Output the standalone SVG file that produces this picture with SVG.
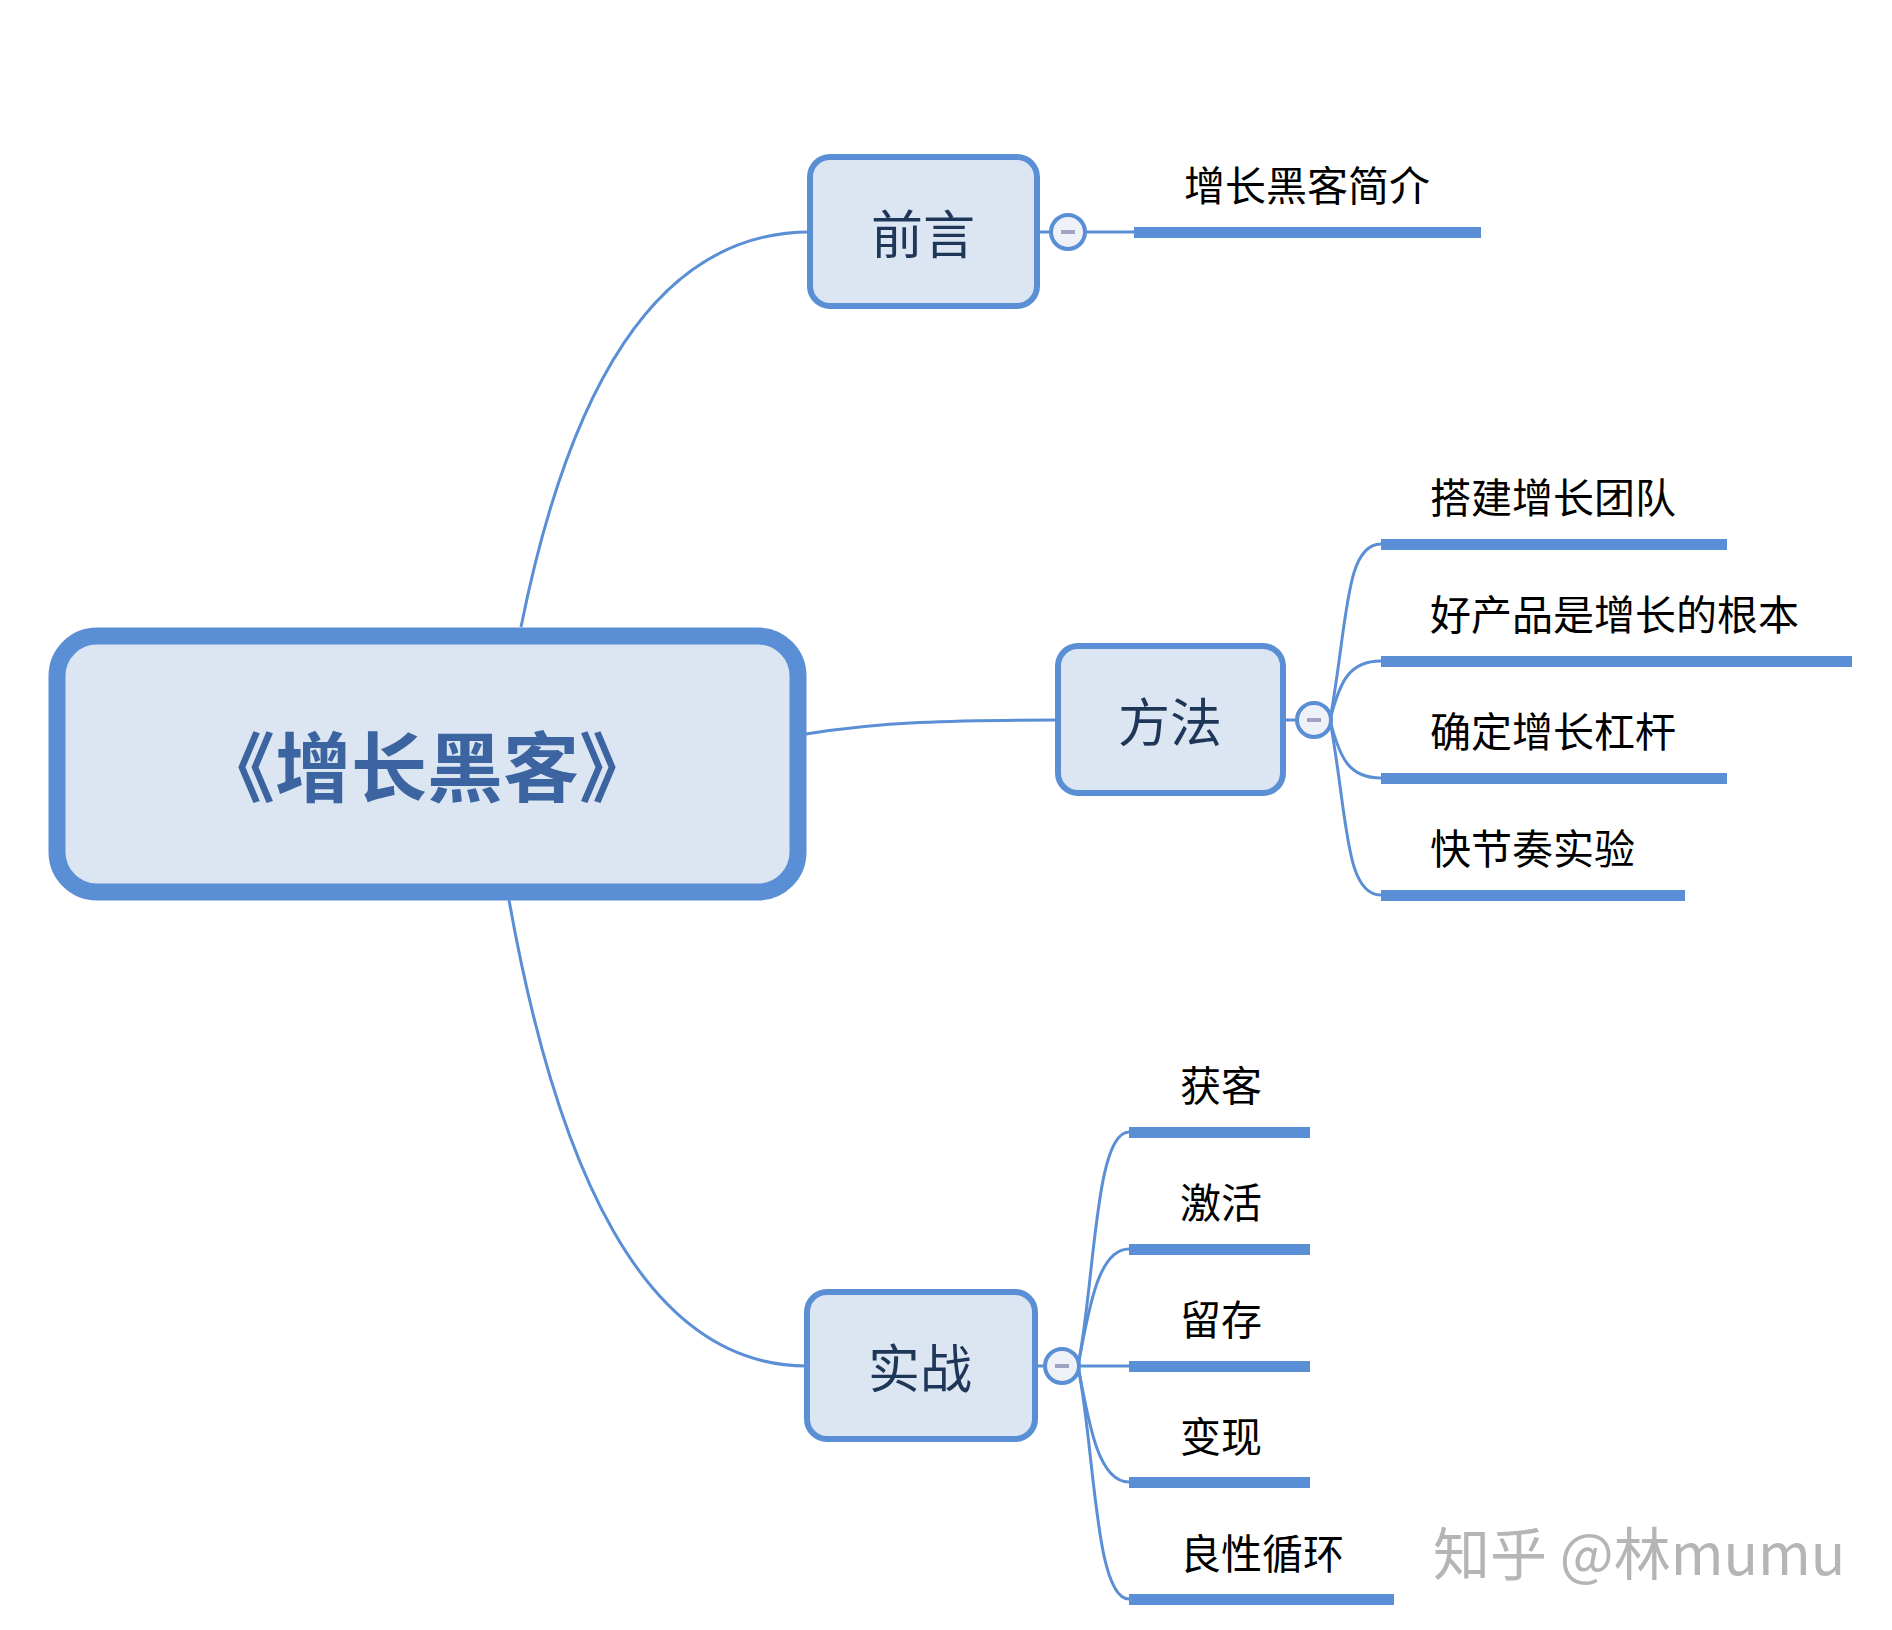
<svg xmlns="http://www.w3.org/2000/svg" width="1892" height="1630" viewBox="0 0 1892 1630">
<style>
.node rect{fill:#dce6f3;stroke:#5a8fd6}
.lbl{font-family:"Noto Sans CJK SC","Noto Sans",sans-serif;text-anchor:middle}
.sub{font-family:"Noto Sans CJK SC","Noto Sans",sans-serif;font-size:41px;fill:#000}
.conn path{fill:none;stroke:#5a8fd6;stroke-width:3}
.bar{fill:#5a8fd6}
.tog circle{fill:#eef2f8;stroke:#5a8fd6;stroke-width:4}
.tog line{stroke:#9ea3c4;stroke-width:4}
</style>
<rect width="1892" height="1630" fill="#ffffff"/>
<g id="connectors" class="conn">
<path d="M521,627 C567,398 652,232 810,232"/>
<path d="M806,734 C880,722 950,720 1058,720"/>
<path d="M509,900 C555,1158 640,1366 807,1366"/>
<path d="M1037,232 L1134,232"/>
<path d="M1283,720 L1300,720"/>
<path d="M1035,1366 L1050,1366"/>
<path d="M1330,720 C1348,620 1345,544 1381,544"/>
<path d="M1330,720 C1340,680 1350,661 1381,661"/>
<path d="M1330,720 C1340,760 1350,778 1381,778"/>
<path d="M1330,720 C1348,820 1345,895 1381,895"/>
<path d="M1078,1366 C1095,1280 1095,1132 1129,1132"/>
<path d="M1078,1366 C1090,1300 1100,1249 1129,1249"/>
<path d="M1078,1366 L1129,1366"/>
<path d="M1078,1366 C1090,1432 1100,1482 1129,1482"/>
<path d="M1078,1366 C1095,1452 1095,1599 1129,1599"/>
</g>
<g id="node-root" class="node">
<rect x="57" y="636" width="741" height="256" rx="40" stroke-width="17"/>
<text class="lbl" x="427" y="796" font-size="76" font-weight="bold" fill="#3b64a0">《增长黑客》</text>
</g>
<g id="node-qianyan" class="node">
<rect x="810" y="157" width="227" height="149" rx="20" stroke-width="6"/>
<text class="lbl" x="923" y="254" font-size="52" fill="#1e3658">前言</text>
</g>
<g id="toggle-qianyan" class="tog"><circle cx="1068" cy="232" r="17"/><line x1="1061" y1="232" x2="1075" y2="232"/></g>
<g id="node-fangfa" class="node">
<rect x="1058" y="646" width="225" height="147" rx="20" stroke-width="6"/>
<text class="lbl" x="1170" y="742" font-size="52" fill="#1e3658">方法</text>
</g>
<g id="toggle-fangfa" class="tog"><circle cx="1314" cy="720" r="17"/><line x1="1307" y1="720" x2="1321" y2="720"/></g>
<g id="node-shizhan" class="node">
<rect x="807" y="1292" width="228" height="147" rx="20" stroke-width="6"/>
<text class="lbl" x="920" y="1388" font-size="52" fill="#1e3658">实战</text>
</g>
<g id="toggle-shizhan" class="tog"><circle cx="1062" cy="1366" r="17"/><line x1="1055" y1="1366" x2="1069" y2="1366"/></g>
<g id="leaf-jianjie"><rect class="bar" x="1134" y="227" width="347" height="11"/><text class="sub" x="1184" y="201">增长黑客简介</text></g>
<g id="leaf-tuandui"><rect class="bar" x="1381" y="539" width="346" height="11"/><text class="sub" x="1430" y="513">搭建增长团队</text></g>
<g id="leaf-chanpin"><rect class="bar" x="1381" y="656" width="471" height="11"/><text class="sub" x="1430" y="630">好产品是增长的根本</text></g>
<g id="leaf-ganggan"><rect class="bar" x="1381" y="773" width="346" height="11"/><text class="sub" x="1430" y="747">确定增长杠杆</text></g>
<g id="leaf-shiyan"><rect class="bar" x="1381" y="890" width="304" height="11"/><text class="sub" x="1430" y="864">快节奏实验</text></g>
<g id="leaf-huoke"><rect class="bar" x="1129" y="1127" width="181" height="11"/><text class="sub" x="1180" y="1101">获客</text></g>
<g id="leaf-jihuo"><rect class="bar" x="1129" y="1244" width="181" height="11"/><text class="sub" x="1180" y="1218">激活</text></g>
<g id="leaf-liucun"><rect class="bar" x="1129" y="1361" width="181" height="11"/><text class="sub" x="1180" y="1335">留存</text></g>
<g id="leaf-bianxian"><rect class="bar" x="1129" y="1477" width="181" height="11"/><text class="sub" x="1180" y="1452">变现</text></g>
<g id="leaf-xunhuan"><rect class="bar" x="1129" y="1594" width="265" height="11"/><text class="sub" x="1180" y="1569">良性循环</text></g>
<text x="1433" y="1575" font-family="'Noto Sans CJK SC','Noto Sans',sans-serif" font-size="57" fill="#b5b5b5">知乎 @林mumu</text>
</svg>
